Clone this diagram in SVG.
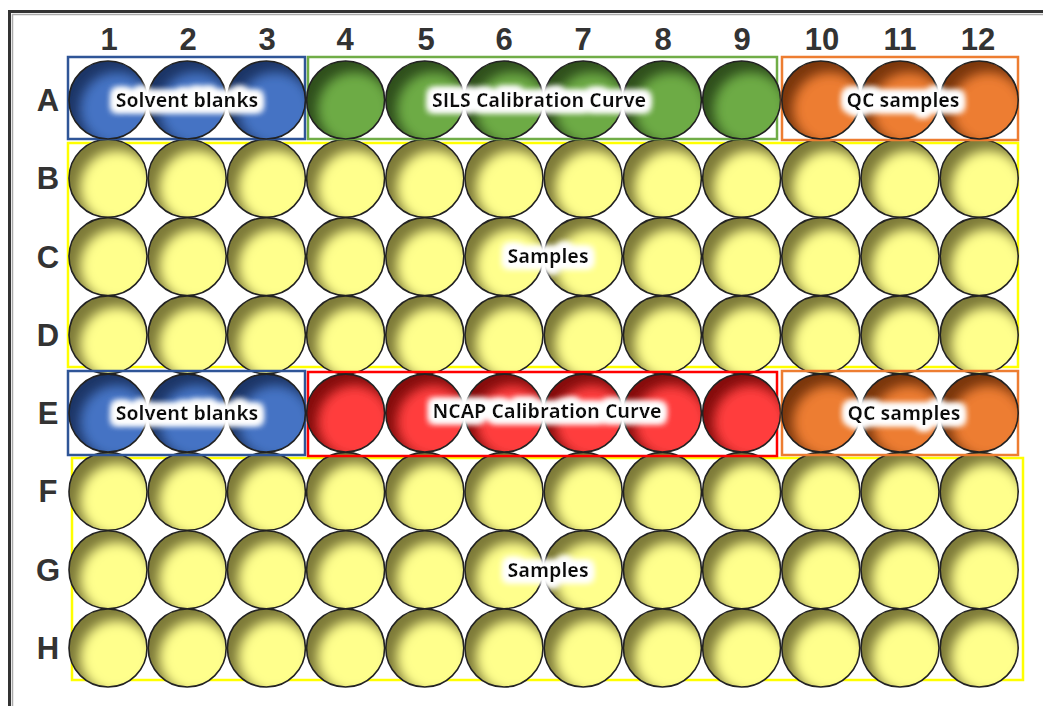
<svg xmlns="http://www.w3.org/2000/svg" width="1043" height="706" viewBox="0 0 1043 706">
<style>
.hdr{font-family:"Liberation Sans",Arial,sans-serif;font-weight:bold;font-size:31px;fill:#333;text-anchor:middle}
.lbl{font-family:"Open Sans",Lato,sans-serif;font-weight:bold;font-size:19.5px;fill:#111;text-anchor:middle;filter:url(#glow)}
.grp{fill:none;stroke-width:2.5}
.rim{fill:none;stroke:#222;stroke-width:1.6}
</style>
<defs>
<clipPath id="wc"><circle r="39"/></clipPath>
<filter id="bl" x="-50%" y="-50%" width="200%" height="200%"><feGaussianBlur stdDeviation="6"/></filter>
<filter id="glow" x="-20%" y="-60%" width="140%" height="220%">
<feMorphology in="SourceAlpha" operator="dilate" radius="3.5" result="d"/>
<feGaussianBlur in="d" stdDeviation="3.5" result="b"/>
<feFlood flood-color="#fff"/>
<feComposite in2="b" operator="in" result="w"/>
<feMerge><feMergeNode in="w"/><feMergeNode in="w"/><feMergeNode in="w"/><feMergeNode in="SourceGraphic"/></feMerge>
</filter>
<g id="wY"><circle r="39" fill="#7d7a38"/><g clip-path="url(#wc)"><circle cx="9" cy="9" r="37" fill="#ffff8c" filter="url(#bl)"/></g><circle r="39" class="rim"/></g>
<g id="wB"><circle r="39" fill="#1c3566"/><g clip-path="url(#wc)"><circle cx="9" cy="9" r="37" fill="#4473c4" filter="url(#bl)"/></g><circle r="39" class="rim"/></g>
<g id="wG"><circle r="39" fill="#2f4f1c"/><g clip-path="url(#wc)"><circle cx="9" cy="9" r="37" fill="#6dab45" filter="url(#bl)"/></g><circle r="39" class="rim"/></g>
<g id="wO"><circle r="39" fill="#7a360c"/><g clip-path="url(#wc)"><circle cx="9" cy="9" r="37" fill="#ed7d31" filter="url(#bl)"/></g><circle r="39" class="rim"/></g>
<g id="wR"><circle r="39" fill="#850c0c"/><g clip-path="url(#wc)"><circle cx="9" cy="9" r="37" fill="#ff3e3e" filter="url(#bl)"/></g><circle r="39" class="rim"/></g>
</defs>
<rect width="1043" height="706" fill="#fff"/>
<g id="frame">
<path d="M9.5 720 V11.5 H1060" fill="none" stroke="#333" stroke-width="3"/>
<path d="M12.5 720 V14.5 H1060" fill="none" stroke="#aaa" stroke-width="1.5"/>
</g>
<g id="headers">
<text class="hdr" x="109" y="50">1</text><text class="hdr" x="188" y="50">2</text><text class="hdr" x="267" y="50">3</text><text class="hdr" x="345" y="50">4</text><text class="hdr" x="426" y="50">5</text><text class="hdr" x="504" y="50">6</text><text class="hdr" x="583" y="50">7</text><text class="hdr" x="663" y="50">8</text><text class="hdr" x="742" y="50">9</text><text class="hdr" x="822" y="50">10</text><text class="hdr" x="900" y="50">11</text><text class="hdr" x="978" y="50">12</text>
<text class="hdr" x="48" y="111">A</text><text class="hdr" x="48" y="189">B</text><text class="hdr" x="48" y="268">C</text><text class="hdr" x="48" y="346">D</text><text class="hdr" x="48" y="424">E</text><text class="hdr" x="48" y="502">F</text><text class="hdr" x="48" y="581">G</text><text class="hdr" x="48" y="659">H</text>
</g>
<g id="samples-BD">
<rect class="grp" stroke="#ffff00" x="68" y="143" width="950" height="224"/>
<use href="#wY" x="108" y="178.3"/><use href="#wY" x="187.2" y="178.3"/><use href="#wY" x="266.4" y="178.3"/><use href="#wY" x="345.6" y="178.3"/><use href="#wY" x="424.8" y="178.3"/><use href="#wY" x="504" y="178.3"/><use href="#wY" x="583.2" y="178.3"/><use href="#wY" x="662.4" y="178.3"/><use href="#wY" x="741.6" y="178.3"/><use href="#wY" x="820.8" y="178.3"/><use href="#wY" x="900" y="178.3"/><use href="#wY" x="979.2" y="178.3"/>
<use href="#wY" x="108" y="256.6"/><use href="#wY" x="187.2" y="256.6"/><use href="#wY" x="266.4" y="256.6"/><use href="#wY" x="345.6" y="256.6"/><use href="#wY" x="424.8" y="256.6"/><use href="#wY" x="504" y="256.6"/><use href="#wY" x="583.2" y="256.6"/><use href="#wY" x="662.4" y="256.6"/><use href="#wY" x="741.6" y="256.6"/><use href="#wY" x="820.8" y="256.6"/><use href="#wY" x="900" y="256.6"/><use href="#wY" x="979.2" y="256.6"/>
<use href="#wY" x="108" y="334.9"/><use href="#wY" x="187.2" y="334.9"/><use href="#wY" x="266.4" y="334.9"/><use href="#wY" x="345.6" y="334.9"/><use href="#wY" x="424.8" y="334.9"/><use href="#wY" x="504" y="334.9"/><use href="#wY" x="583.2" y="334.9"/><use href="#wY" x="662.4" y="334.9"/><use href="#wY" x="741.6" y="334.9"/><use href="#wY" x="820.8" y="334.9"/><use href="#wY" x="900" y="334.9"/><use href="#wY" x="979.2" y="334.9"/>
<text class="lbl" x="548" y="263">Samples</text>
</g>
<g id="samples-FH">
<rect class="grp" stroke="#ffff00" x="72" y="458" width="951" height="222"/>
<use href="#wY" x="108" y="491.4"/><use href="#wY" x="187.2" y="491.4"/><use href="#wY" x="266.4" y="491.4"/><use href="#wY" x="345.6" y="491.4"/><use href="#wY" x="424.8" y="491.4"/><use href="#wY" x="504" y="491.4"/><use href="#wY" x="583.2" y="491.4"/><use href="#wY" x="662.4" y="491.4"/><use href="#wY" x="741.6" y="491.4"/><use href="#wY" x="820.8" y="491.4"/><use href="#wY" x="900" y="491.4"/><use href="#wY" x="979.2" y="491.4"/>
<use href="#wY" x="108" y="569.7"/><use href="#wY" x="187.2" y="569.7"/><use href="#wY" x="266.4" y="569.7"/><use href="#wY" x="345.6" y="569.7"/><use href="#wY" x="424.8" y="569.7"/><use href="#wY" x="504" y="569.7"/><use href="#wY" x="583.2" y="569.7"/><use href="#wY" x="662.4" y="569.7"/><use href="#wY" x="741.6" y="569.7"/><use href="#wY" x="820.8" y="569.7"/><use href="#wY" x="900" y="569.7"/><use href="#wY" x="979.2" y="569.7"/>
<use href="#wY" x="108" y="648"/><use href="#wY" x="187.2" y="648"/><use href="#wY" x="266.4" y="648"/><use href="#wY" x="345.6" y="648"/><use href="#wY" x="424.8" y="648"/><use href="#wY" x="504" y="648"/><use href="#wY" x="583.2" y="648"/><use href="#wY" x="662.4" y="648"/><use href="#wY" x="741.6" y="648"/><use href="#wY" x="820.8" y="648"/><use href="#wY" x="900" y="648"/><use href="#wY" x="979.2" y="648"/>
<text class="lbl" x="548" y="577">Samples</text>
</g>
<g id="blanks-A">
<rect class="grp" stroke="#2f5597" x="68" y="57" width="237" height="82"/>
<use href="#wB" x="108" y="100"/><use href="#wB" x="187.2" y="100"/><use href="#wB" x="266.4" y="100"/>
<text class="lbl" x="187" y="107">Solvent blanks</text>
</g>
<g id="sils-curve">
<rect class="grp" stroke="#70ad47" x="308" y="57" width="469" height="82"/>
<use href="#wG" x="345.6" y="100"/><use href="#wG" x="424.8" y="100"/><use href="#wG" x="504" y="100"/><use href="#wG" x="583.2" y="100"/><use href="#wG" x="662.4" y="100"/><use href="#wG" x="741.6" y="100"/>
<text class="lbl" x="539" y="107">SILS Calibration Curve</text>
</g>
<g id="qc-A">
<rect class="grp" stroke="#ed7d31" x="782" y="57" width="236" height="83"/>
<use href="#wO" x="820.8" y="100"/><use href="#wO" x="900" y="100"/><use href="#wO" x="979.2" y="100"/>
<text class="lbl" x="903" y="107">QC samples</text>
</g>
<g id="blanks-E">
<rect class="grp" stroke="#2f5597" x="68" y="371" width="237" height="84"/>
<use href="#wB" x="108" y="413.1"/><use href="#wB" x="187.2" y="413.1"/><use href="#wB" x="266.4" y="413.1"/>
<text class="lbl" x="187" y="420">Solvent blanks</text>
</g>
<g id="ncap-curve">
<rect class="grp" stroke="#ff0000" x="308" y="372" width="469" height="84"/>
<use href="#wR" x="345.6" y="413.1"/><use href="#wR" x="424.8" y="413.1"/><use href="#wR" x="504" y="413.1"/><use href="#wR" x="583.2" y="413.1"/><use href="#wR" x="662.4" y="413.1"/><use href="#wR" x="741.6" y="413.1"/>
<text class="lbl" x="547" y="418">NCAP Calibration Curve</text>
</g>
<g id="qc-E">
<rect class="grp" stroke="#ed7d31" x="782" y="371" width="236" height="84"/>
<use href="#wO" x="820.8" y="413.1"/><use href="#wO" x="900" y="413.1"/><use href="#wO" x="979.2" y="413.1"/>
<text class="lbl" x="904" y="420">QC samples</text>
</g>
<g id="connectors"/>
</svg>
